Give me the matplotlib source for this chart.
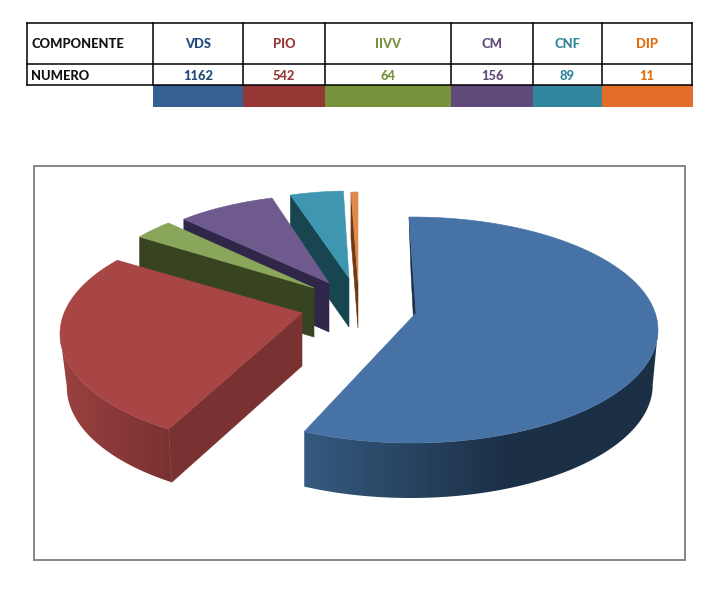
import numpy as np
import matplotlib
matplotlib.use("Agg")
import matplotlib.pyplot as plt
from matplotlib.colors import to_rgb
from matplotlib.patches import Polygon, Rectangle

plt.rcParams['font.family'] = ['Lato', 'DejaVu Sans']

# ---- data
componente = ['VDS', 'PIO', 'IIVV', 'CM', 'CNF', 'DIP']
numero = [1162, 542, 64, 156, 89, 11]

# ---- colours
col_text = ['#1f497d', '#953735', '#76933c', '#604a7b', '#31859c', '#e46c0a']
col_swatch = ['#376092', '#953735', '#76933c', '#604a7b', '#31859c', '#e46c2a']
col_top = ['#4672a6', '#a84545', '#8aa65a', '#6f5a8e', '#3f96b0', '#e08a4a']
col_cut = ['#1b2f47', '#793231', '#38431f', '#30264a', '#174550', '#6e3a14']

# ---- slice geometry in pixels: ellipse centre, radii, apex, angle shift, wall height
cx = [412, 304, 334, 338, 350, 358]
cy = [330, 334, 286, 278, 276, 277]
rx = [246, 244, 232, 216, 195, 206]
ry = [113, 114.5, 90, 84, 85, 85]
apex_x = [416, 302, 314, 329, 349, 358]
apex_y = [313, 313, 288, 283, 278, 282]
shift = [-0.7, 7, 0, 0, 0, 0]
depth = [55, 53, 49, 49, 49, 46]
cut_off = [2, 3, 0, 0, 0, 0]

# ---- table layout
col_edges = [26.5, 153, 243, 325, 451, 533, 602, 692]
row_edges = [22.5, 64, 85]

fig = plt.figure(figsize=(7.23, 6.08), dpi=100)
ax = fig.add_axes([0, 0, 1, 1])
ax.set_xlim(0, 723)
ax.set_ylim(608, 0)
ax.axis('off')

# table swatches and grid
for i in range(6):
    x0, x1 = col_edges[i + 1], col_edges[i + 2]
    ax.add_patch(Rectangle((x0, 85), x1 - x0 + (1 if i == 5 else 0), 22, fc=col_swatch[i], ec='none'))
    ax.text((x0 + x1) / 2, 43.5, componente[i], color=col_text[i], fontsize=9.3, fontweight='black',
            ha='center', va='center')
    ax.text((x0 + x1) / 2, 76.5, str(numero[i]), color=col_text[i], fontsize=9.3, fontweight='black',
            ha='center', va='center')
for x in col_edges:
    ax.plot([x, x], [row_edges[0], row_edges[-1]], color='black', lw=1.1, solid_capstyle='projecting')
for y in row_edges:
    ax.plot([col_edges[0], col_edges[-1]], [y, y], color='black', lw=1.1, solid_capstyle='projecting')
ax.text(31, 43.5, 'COMPONENTE', fontsize=9.3, fontweight='black', color='#111111', va='center')
ax.text(31, 76.5, 'NUMERO', fontsize=9.3, fontweight='black', color='#111111', va='center')

# chart frame
ax.add_patch(Rectangle((33.5, 166), 651.5, 393.5, fc='white', ec='#868686', lw=1.4, zorder=0.5))

# pie, clockwise from 12 o'clock, angles from the values
angles = np.cumsum([0] + numero) / sum(numero) * 360


def ell(i, deg):
    t = np.radians(np.asarray(deg) + shift[i])
    return cx[i] + rx[i] * np.sin(t), cy[i] - ry[i] * np.cos(t)


def shaded_wall(x, y, d, xb, x_a, x_b, col_a, col_b, z):
    # outer wall: top arc + bottom arc, joined straight at the silhouette
    xs = np.r_[x, xb[::-1]]
    ys = np.r_[y, (y + d)[::-1]]
    clip = Polygon(np.column_stack([xs, ys]), fc='none', ec='none', transform=ax.transData)
    ax.add_patch(clip)
    gx = np.linspace(xs.min(), xs.max(), 256)
    f = np.clip((gx - x_a) / (x_b - x_a), 0, 1)[:, None]
    grad = (np.array(to_rgb(col_a)) * (1 - f) + np.array(to_rgb(col_b)) * f)[None, :, :]
    im = ax.imshow(grad, extent=[xs.min(), xs.max(), ys.max(), ys.min()], aspect='auto', zorder=z)
    im.set_clip_path(clip)


# back slices first
z = 1
for i in [5, 4, 3, 2, 1, 0]:
    th = np.linspace(angles[i], angles[i + 1], 300)
    x, y = ell(i, th)
    d = depth[i]

    # visible cut face, the one at the start of the slice
    ax.add_patch(Polygon([(x[0], y[0]), (apex_x[i], apex_y[i]), (apex_x[i], apex_y[i] + d),
                          (x[0] + cut_off[i], y[0] + d)],
                         fc=col_cut[i], ec=col_cut[i], lw=0.4, zorder=z))
    z += 1

    if i == 0:
        # only from the right extreme round to the front cut
        k = np.argmax(x)
        xw, yw = x[k:], y[k:]
        xb = xw + (xw[-1] - xw) * 0.015
        shaded_wall(xw, yw, d, xb, 303, 510, '#365a80', '#1b2f45', z)
    elif i == 1:
        # from the front cut round to the left extreme
        k = np.argmin(x)
        xw, yw = x[:k + 1], y[:k + 1]
        xb = xw + 3 + (xw[0] - xw) * 0.035
        shaded_wall(xw, yw, d, xb, 62, 172, '#9a4040', '#793231', z)
    z += 1

    # top face
    ax.add_patch(Polygon(np.column_stack([np.r_[apex_x[i], x], np.r_[apex_y[i], y]]),
                         fc=col_top[i], ec=col_top[i], lw=0.4, zorder=z))
    z += 1

ax.set_xlim(0, 723)
ax.set_ylim(608, 0)
fig.savefig('out.png', dpi=100)
